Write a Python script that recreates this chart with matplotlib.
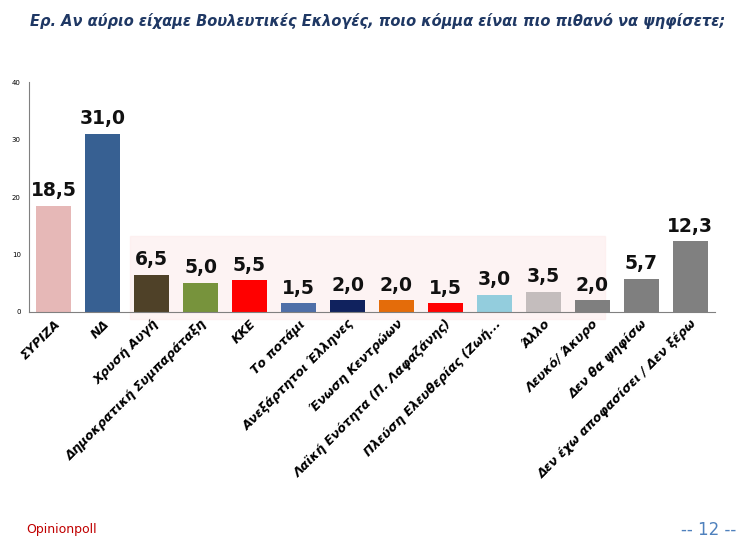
import matplotlib
matplotlib.use("Agg")
import matplotlib.pyplot as plt
from matplotlib.patches import Rectangle

categories = ["ΣΥΡΙΖΑ", "ΝΔ", "Χρυσή Αυγή", "Δημοκρατική Συμπαράταξη", "ΚΚΕ", "Το ποτάμι",
              "Ανεξάρτητοι Έλληνες", "Ένωση Κεντρώων", "Λαϊκή Ενότητα (Π. Λαφαζάνης)",
              "Πλεύση Ελευθερίας (Ζωή...", "Άλλο", "Λευκό/ Άκυρο", "Δεν θα ψηφίσω",
              "Δεν έχω αποφασίσει / Δεν ξέρω"]
values = [18.5, 31.0, 6.5, 5.0, 5.5, 1.5, 2.0, 2.0, 1.5, 3.0, 3.5, 2.0, 5.7, 12.3]
colors = ["#e6b8b7", "#376092", "#4f4128", "#77933c", "#ff0000", "#4f6fa8", "#10225e",
          "#e46c0a", "#ff0000", "#93cddd", "#c4bdbd", "#7f7f7f", "#7f7f7f", "#808080"]
yticks = [0, 10, 20, 30, 40]

fig = plt.figure(figsize=(7.47, 5.52), dpi=100)
fig.text(0.505, 0.962, "Ερ. Αν αύριο είχαμε Βουλευτικές Εκλογές, ποιο κόμμα είναι πιο πιθανό να ψηφίσετε;",
         ha="center", va="center", fontsize=10.5, fontstyle="italic", fontweight="bold", color="#1f3864")
ax = fig.add_axes([0.039, 0.435, 0.918, 0.416])
ax.add_patch(Rectangle((1.55, -1.2), 9.7, 14.5, color="#fde9e9", alpha=0.5, zorder=0, clip_on=False))
x = range(len(categories))
ax.bar(x, values, width=0.7, color=colors, zorder=2)
for i, v in enumerate(values):
    ax.text(i, v + 1.0, f"{v:.1f}".replace(".", ","), ha="center", va="bottom",
            fontsize=13.5, fontweight="bold", color="#111111")
ax.set_xlim(-0.5, len(categories) - 0.5)
ax.set_ylim(0, 40)
ax.set_yticks(yticks)
ax.tick_params(axis="y", labelsize=5, length=0, pad=6)
ax.set_xticks(list(x))
ax.set_xticklabels(categories, rotation=45, ha="right", rotation_mode="anchor",
                   fontsize=9, fontstyle="italic", fontweight="bold")
ax.tick_params(axis="x", length=0, pad=4)
for s in ["top", "right"]:
    ax.spines[s].set_visible(False)
ax.spines["left"].set_color("#808080")
ax.spines["bottom"].set_color("#808080")
fig.text(0.035, 0.035, "Opinionpoll", fontsize=9, color="#c00000")
fig.text(0.985, 0.03, "-- 12 --", ha="right", fontsize=12, color="#4f81bd")
fig.savefig("out.png", dpi=100)
